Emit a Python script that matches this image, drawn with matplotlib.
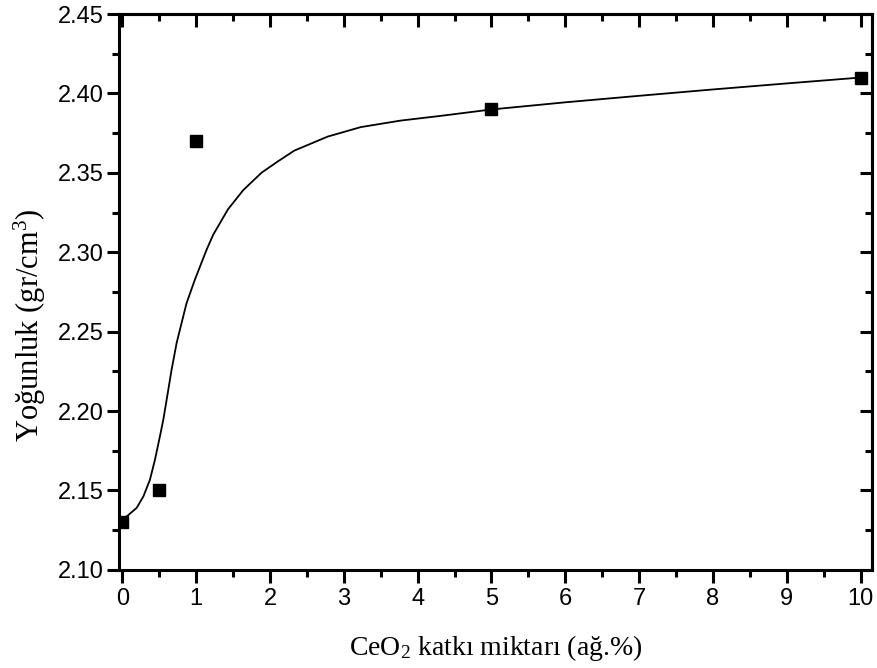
import matplotlib
matplotlib.use("Agg")
import matplotlib.pyplot as plt
from matplotlib.ticker import MultipleLocator, FormatStrFormatter

# measured points
ceo2 = [0, 0.5, 1, 5, 10]
density = [2.13, 2.15, 2.37, 2.39, 2.41]

# fitted curve
curve_x = [0, 0.058, 0.193, 0.284, 0.373, 0.441, 0.508, 0.554, 0.599, 0.666,
           0.734, 0.801, 0.869, 0.981, 1.139, 1.23, 1.43, 1.635, 1.883, 2.1,
           2.33, 2.78, 3.23, 3.77, 4.3, 5, 6, 7, 8, 9, 10]
curve_y = [2.1325, 2.1336, 2.139, 2.1462, 2.1567, 2.1693, 2.184, 2.1945, 2.207,
           2.2259, 2.2427, 2.2553, 2.2679, 2.2826, 2.3014, 2.311, 2.327, 2.339,
           2.350, 2.357, 2.364, 2.3728, 2.3788, 2.3829, 2.3858, 2.3899, 2.3944,
           2.3985, 2.4025, 2.4063, 2.41]

plt.rcParams['mathtext.fontset'] = 'custom'
plt.rcParams['mathtext.rm'] = 'Liberation Serif'
plt.rcParams['mathtext.it'] = 'Liberation Serif'

fig = plt.figure(figsize=(8.77, 6.68), dpi=100)
ax = fig.add_axes([0.1357, 0.147, 0.859, 0.832])

ax.plot(curve_x, curve_y, color='black', linewidth=1.3, solid_joinstyle='round')
ax.plot(ceo2, density, 's', color='black', markersize=8.5, linestyle='none')

ax.set_xlim(-0.046, 10.16)
ax.set_ylim(2.10, 2.45)
ax.xaxis.set_major_locator(MultipleLocator(1))
ax.xaxis.set_minor_locator(MultipleLocator(0.5))
ax.yaxis.set_major_locator(MultipleLocator(0.05))
ax.yaxis.set_minor_locator(MultipleLocator(0.025))
ax.yaxis.set_major_formatter(FormatStrFormatter('%.2f'))

for s in ax.spines.values():
    s.set_linewidth(2.2)

ax.tick_params(which='both', direction='out', width=2.2, top=False, right=False,
               labelsize=17)
ax.tick_params(axis='y', pad=2)
ax.tick_params(axis='x', pad=4)
ax.tick_params(which='major', length=9)
ax.tick_params(which='minor', length=5)
for lab in ax.get_xticklabels() + ax.get_yticklabels():
    lab.set_fontfamily('Liberation Sans')

# inward ticks on top and right
sec_x = ax.secondary_xaxis('top')
sec_x.xaxis.set_major_locator(MultipleLocator(1))
sec_x.xaxis.set_minor_locator(MultipleLocator(0.5))
sec_x.tick_params(which='both', direction='in', width=2.2, labeltop=False)
sec_x.tick_params(which='major', length=9)
sec_x.tick_params(which='minor', length=5)
sec_x.spines['top'].set_linewidth(2.2)
sec_y = ax.secondary_yaxis('right')
sec_y.yaxis.set_major_locator(MultipleLocator(0.05))
sec_y.yaxis.set_minor_locator(MultipleLocator(0.025))
sec_y.tick_params(which='both', direction='in', width=2.2, labelright=False)
sec_y.tick_params(which='major', length=9)
sec_y.tick_params(which='minor', length=5)
sec_y.spines['right'].set_linewidth(2.2)

ax.set_xlabel('CeO$_2$ katkı miktarı (ağ.%)', fontfamily='Liberation Serif',
              fontsize=20)
ax.set_ylabel('Yoğunluk (gr/cm$^3$)', fontfamily='Liberation Serif',
              fontsize=22)
ax.xaxis.set_label_coords(0.5, -0.113)
ax.yaxis.set_label_coords(-0.094, 0.44)

fig.savefig('out.png', dpi=100)
